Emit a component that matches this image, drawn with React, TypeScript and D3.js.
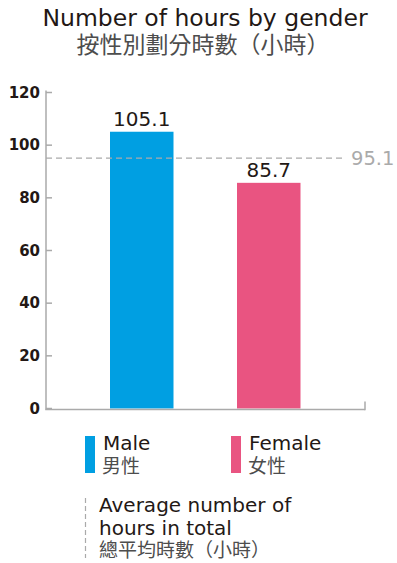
import React from 'react';
import * as d3 from 'd3';

const categories = ['Male', 'Female'];
const categoriesZh = ['男性', '女性'];
const hours = [105.1, 85.7];
const colors = ['#009FE2', '#E95481'];
const average = 95.1;
const yTicks = [0, 20, 40, 60, 80, 100, 120];

const font = '"DejaVu Sans", Verdana, sans-serif';
const cjk = '"Noto Sans CJK TC", "Noto Sans CJK SC", sans-serif';

const App = () => {
  const width = 397;
  const height = 563;

  // plot frame
  const left = 46;
  const right = 365;
  const top = 92.5;
  const bottom = 408.5;

  const y = d3.scaleLinear().domain([0, 120]).range([bottom, top]);
  const x = d3.scaleBand().domain(categories).range([46.5, 364]).padding(0.5);
  const barW = x.bandwidth();

  return (
    <svg width={width} height={height} style={{ position: 'fixed', left: 0, top: 0, background: '#fff' }}>
      {/* title */}
      <text x={205} y={26} textAnchor="middle" fontFamily={font} fontSize={23.5} fill="#231815">
        Number of hours by gender
      </text>
      <text x={203} y={53} textAnchor="middle" fontFamily={cjk} fontSize={23} fill="#4d4d4d">
        按性別劃分時數（小時）
      </text>

      {/* y axis */}
      <line x1={left} x2={left} y1={y(120) - 2} y2={bottom + 1} stroke="#aaa" strokeWidth={1.5} />
      {yTicks.map(t => (
        <g key={t}>
          <line x1={left} x2={left + 6} y1={y(t)} y2={y(t)} stroke="#aaa" strokeWidth={1.5} />
          <text x={40} y={y(t) + 5} textAnchor="end" fontFamily={font} fontWeight="bold" fontSize={15} fill="#231815">
            {t}
          </text>
        </g>
      ))}

      {/* bars */}
      {hours.map((v, i) => (
        <g key={categories[i]}>
          <rect x={x(categories[i])} y={y(v)} width={barW} height={bottom - y(v)} fill={colors[i]} />
          <text x={x(categories[i]) + barW / 2} y={y(v) - 6} textAnchor="middle" fontFamily={font} fontSize={20} fill="#231815">
            {v.toFixed(1)}
          </text>
        </g>
      ))}

      {/* x axis */}
      <line x1={left - 0.75} x2={right} y1={bottom + 1} y2={bottom + 1} stroke="#aaa" strokeWidth={1.5} />
      <line x1={right} x2={right} y1={bottom - 7} y2={bottom + 1.75} stroke="#aaa" strokeWidth={1.5} />

      {/* average line */}
      <line x1={left} x2={343} y1={y(average)} y2={y(average)} stroke="#aaa" strokeWidth={1.2} strokeDasharray="6,4" />
      <text x={351} y={y(average) + 7} fontFamily={font} fontSize={19.5} fill="#aaa">
        {average}
      </text>

      {/* legend */}
      {categories.map((c, i) => {
        const lx = i === 0 ? 85 : 231;
        return (
          <g key={c}>
            <rect x={lx} y={436} width={10} height={37} fill={colors[i]} />
            <text x={lx + 18} y={450} fontFamily={font} fontSize={20} fill="#231815">{c}</text>
            <text x={lx + 17} y={473} fontFamily={cjk} fontSize={19} fill="#4d4d4d">{categoriesZh[i]}</text>
          </g>
        );
      })}
      <line x1={85.5} x2={85.5} y1={498} y2={558} stroke="#aaa" strokeWidth={1.2} strokeDasharray="5,3" />
      <text x={99} y={512} fontFamily={font} fontSize={20} fill="#231815">Average number of</text>
      <text x={99} y={535} fontFamily={font} fontSize={20} fill="#231815">hours in total</text>
      <text x={99} y={557} fontFamily={cjk} fontSize={19} fill="#4d4d4d">總平均時數（小時）</text>
    </svg>
  );
};

export default App;
